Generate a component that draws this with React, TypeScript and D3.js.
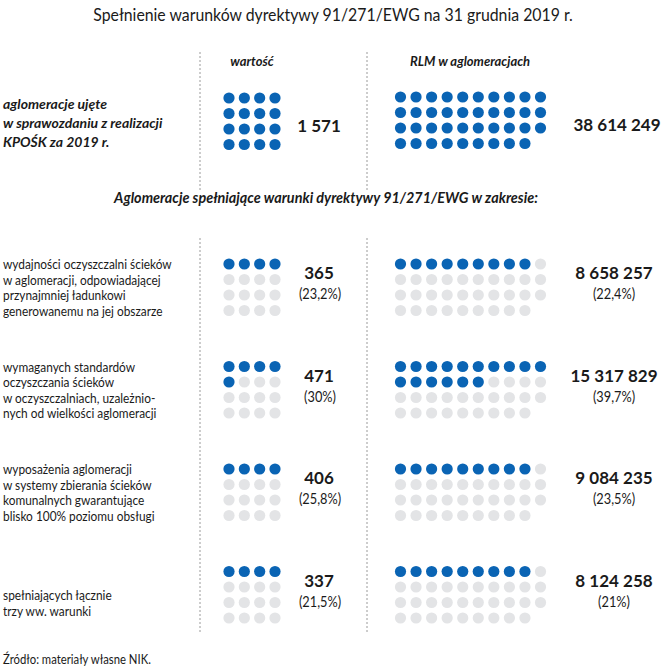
import React from "react";
import * as d3 from "d3";

const TITLE = "Spełnienie warunków dyrektywy 91/271/EWG na 31 grudnia 2019 r.";
const COL_HEADERS = ["wartość", "RLM w aglomeracjach"];
const TOTAL_LABEL = ["aglomeracje ujęte", "w sprawozdaniu z realizacji", "KPOŚK za 2019 r."];
const TOTAL_VALUE = 1571;
const TOTAL_RLM = 38614249;
const SECTION_HEADING = "Aglomeracje spełniające warunki dyrektywy 91/271/EWG w zakresie:";
const FOOTER = "Źródło: materiały własne NIK.";

const rowLabels: string[][] = [
  ["wydajności oczyszczalni ścieków", "w aglomeracji, odpowiadającej", "przynajmniej ładunkowi", "generowanemu na jej obszarze"],
  ["wymaganych standardów", "oczyszczania ścieków", "w oczyszczalniach, uzależnio-", "nych od wielkości aglomeracji"],
  ["wyposażenia aglomeracji", "w systemy zbierania ścieków", "komunalnych gwarantujące", "blisko 100% poziomu obsługi"],
  ["spełniających łącznie", "trzy ww. warunki"],
];
const rowValues = [365, 471, 406, 337];
const rowValueShares = ["23,2%", "30%", "25,8%", "21,5%"];
const rowRlm = [8658257, 15317829, 9084235, 8124258];
const rowRlmShares = ["22,4%", "39,7%", "23,5%", "21%"];
const rowValueDotsFilled = [4, 5, 4, 4];
const rowRlmDotsFilled = [9, 16, 9, 9];
const VALUE_DOTS = 16;
const RLM_DOTS = 39;

const BLUE = "#0a64b4";
const GREY = "#e3e4e6";
const TEXT = "#1a1a1a";
const FONT = "Lato, 'Noto Sans', sans-serif";

const fmt = d3
  .formatLocale({ decimal: ",", thousands: " ", grouping: [3], currency: ["", ""] })
  .format(",");

const leftCols = d3.scalePoint<number>().domain(d3.range(4)).range([229, 275]);
const rightCols = d3.scalePoint<number>().domain(d3.range(10)).range([400.5, 540.5]);
const gridRows = d3.scalePoint<number>().domain(d3.range(4)).range([0, 46.5]);
const blockY = d3.scaleLinear().domain([0, 3]).range([264, 571.5]);

function CText({ x, y, sx = 1, children, ...rest }: any) {
  return (
    <g transform={`translate(${x},${y}) scale(${sx},1)`}>
      <text x={0} y={0} fill={TEXT} {...rest}>
        {children}
      </text>
    </g>
  );
}

function DotGrid({ n, filled, cols, ncol, top }: { n: number; filled: number; cols: d3.ScalePoint<number>; ncol: number; top: number }) {
  return (
    <g>
      {d3.range(n).map((i) => (
        <circle
          key={i}
          cx={cols(i % ncol)!}
          cy={top + gridRows(Math.floor(i / ncol))!}
          r={5.6}
          fill={i < filled ? BLUE : GREY}
        />
      ))}
    </g>
  );
}

export default function App() {
  const topY = 98;
  return (
    <svg
      width={666}
      height={671}
      style={{ position: "absolute", left: 0, top: 0, background: "#fff" }}
      fontFamily={FONT}
    >
      <rect width={666} height={671} fill="#fff" />
      <CText x={333} y={21} sx={0.88} textAnchor="middle" fontSize={18}>
        {TITLE}
      </CText>

      {/* dashed separators */}
      {[200, 367].map((x) => (
        <g key={x}>
          <line x1={x} x2={x} y1={52} y2={190} stroke="#9a9a9a" strokeDasharray="2,2" strokeWidth={1} />
          <line x1={x} x2={x} y1={238} y2={632} stroke="#9a9a9a" strokeDasharray="2,2" strokeWidth={1} />
        </g>
      ))}

      <text x={252} y={66} textAnchor="middle" fontSize={13} fontStyle="italic" fontWeight={700} fill={TEXT}>
        {COL_HEADERS[0]}
      </text>
      <text x={470} y={66} textAnchor="middle" fontSize={13} fontStyle="italic" fontWeight={700} fill={TEXT}>
        {COL_HEADERS[1]}
      </text>

      {TOTAL_LABEL.map((l, i) => (
        <text key={i} x={3} y={109 + i * 19} fontSize={14} fontStyle="italic" fontWeight={700} fill={TEXT}>
          {l}
        </text>
      ))}
      <DotGrid n={VALUE_DOTS} filled={VALUE_DOTS} cols={leftCols} ncol={4} top={topY} />
      <DotGrid n={RLM_DOTS} filled={RLM_DOTS} cols={rightCols} ncol={10} top={topY - 1} />
      <text x={319} y={132} textAnchor="middle" fontSize={17} fontWeight={700} fill={TEXT}>
        {fmt(TOTAL_VALUE)}
      </text>
      <text x={617} y={131} textAnchor="middle" fontSize={17} fontWeight={700} fill={TEXT}>
        {fmt(TOTAL_RLM)}
      </text>

      <text x={326} y={203} textAnchor="middle" fontSize={14.4} fontStyle="italic" fontWeight={700} fill={TEXT}>
        {SECTION_HEADING}
      </text>

      {rowLabels.map((lines, r) => {
        const top = blockY(r);
        const lineY = (i: number) =>
          lines.length === 4 ? top + gridRows(i)! + 5 : top + 28 + i * 16;
        return (
          <g key={r}>
            {lines.map((l, i) => (
              <CText key={i} x={3} y={lineY(i)} sx={0.88} fontSize={13.5}>
                {l}
              </CText>
            ))}
            <DotGrid n={VALUE_DOTS} filled={rowValueDotsFilled[r]} cols={leftCols} ncol={4} top={top} />
            <DotGrid n={RLM_DOTS} filled={rowRlmDotsFilled[r]} cols={rightCols} ncol={10} top={top} />
            <text x={319} y={top + 15} textAnchor="middle" fontSize={17} fontWeight={700} fill={TEXT}>
              {fmt(rowValues[r])}
            </text>
            <CText x={320} y={top + 35} sx={0.88} textAnchor="middle" fontSize={14.5}>
              {`(${rowValueShares[r]})`}
            </CText>
            <text x={614} y={top + 15} textAnchor="middle" fontSize={17} fontWeight={700} fill={TEXT}>
              {fmt(rowRlm[r])}
            </text>
            <CText x={614} y={top + 35} sx={0.88} textAnchor="middle" fontSize={14.5}>
              {`(${rowRlmShares[r]})`}
            </CText>
          </g>
        );
      })}

      <CText x={3} y={664} sx={0.87} fontSize={13}>
        {FOOTER}
      </CText>
    </svg>
  );
}
